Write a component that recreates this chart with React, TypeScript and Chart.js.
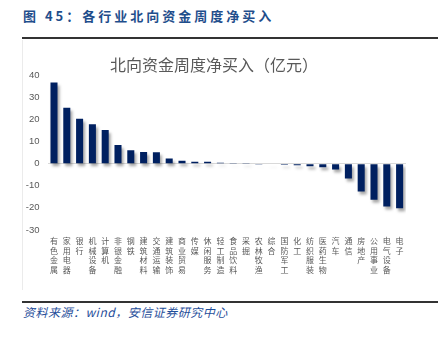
import React, { useEffect, useRef } from "react";
import { Chart, registerables } from "chart.js";

Chart.register(...registerables);

const categories = [
  "有色金属", "家用电器", "银行", "机械设备", "计算机", "非银金融", "钢铁",
  "建筑材料", "交通运输", "建筑装饰", "商业贸易", "传媒", "休闲服务", "轻工制造",
  "食品饮料", "采掘", "农林牧渔", "综合", "国防军工", "化工", "纺织服装",
  "医药生物", "汽车", "通信", "房地产", "公用事业", "电气设备", "电子",
];

const netBuy = [
  36.7, 25.3, 20.3, 17.8, 15.2, 8.4, 6.1,
  5.3, 5.2, 2.3, 1.3, 0.8, 0.8, 0.4,
  0.3, 0.05, -0.2, -0.3, -0.5, -0.7, -1.2,
  -1.6, -2.6, -6.7, -12.6, -16.3, -19.4, -20.2,
];

const yMin = -30;
const yMax = 40;
const yStep = 10;

const figureTitle = "图 45：各行业北向资金周度净买入";
const chartTitle = "北向资金周度净买入（亿元）";
const sourceText = "资料来源：wind，安信证券研究中心";

const shadowPlugin = {
  id: "barShadow",
  beforeDatasetsDraw(chart: any) {
    const ctx = chart.ctx;
    ctx.save();
    ctx.shadowColor = "rgba(0,0,0,0.35)";
    ctx.shadowOffsetX = 2;
    ctx.shadowOffsetY = 3;
    ctx.shadowBlur = 3;
  },
  afterDatasetsDraw(chart: any) {
    chart.ctx.restore();
  },
};

export default function App() {
  const canvasRef = useRef<HTMLCanvasElement | null>(null);

  useEffect(() => {
    if (!canvasRef.current) return;
    const chart = new Chart(canvasRef.current, {
      type: "bar",
      data: {
        labels: categories.map((c) => c.split("")),
        datasets: [
          {
            data: netBuy,
            backgroundColor: "#002060",
            barPercentage: 0.55,
            categoryPercentage: 1,
          },
        ],
      },
      plugins: [shadowPlugin],
      options: {
        animation: false,
        responsive: false,
        maintainAspectRatio: false,
        layout: { padding: { left: 0, right: 32, top: 0, bottom: 19 } },
        plugins: {
          legend: { display: false },
          tooltip: { enabled: false },
          title: {
            display: true,
            text: chartTitle,
            color: "#595959",
            font: { family: "'Noto Sans CJK SC', sans-serif", size: 16, weight: "normal" },
            padding: { top: 15, bottom: 1 },
          },
        },
        scales: {
          x: {
            grid: { display: false, drawTicks: false },
            border: { display: false },
            ticks: {
              autoSkip: false,
              maxRotation: 0,
              minRotation: 0,
              padding: 6,
              color: "#595959",
              font: { family: "'Noto Sans CJK SC', sans-serif", size: 8, lineHeight: 1.22 },
            },
          },
          y: {
            min: yMin,
            max: yMax,
            afterFit(scale: any) {
              scale.width = 25.6;
            },
            grid: {
              drawTicks: false,
              color: (ctx: any) => (ctx.tick && ctx.tick.value === 0 ? "#D9D9D9" : "rgba(0,0,0,0)"),
              lineWidth: 1,
            },
            border: { display: false },
            ticks: {
              stepSize: yStep,
              padding: 8,
              color: "#595959",
              font: { family: "'Liberation Sans', Arial, sans-serif", size: 9.5 },
            },
          },
        },
      },
    });
    return () => chart.destroy();
  }, []);

  return (
    <div style={{ position: "absolute", left: 0, top: 0, width: 438, height: 338, background: "#fff" }}>
      <div
        style={{
          position: "absolute",
          left: 23,
          top: 7,
          fontFamily: "'Noto Sans CJK SC', sans-serif",
          fontWeight: "bold",
          fontSize: 13,
          letterSpacing: 3,
          color: "#1F4E8C",
          whiteSpace: "nowrap",
          lineHeight: "18px",
        }}
      >
        {figureTitle}
      </div>
      <div style={{ position: "absolute", left: 22, top: 37, width: 416, height: 2, background: "#333" }} />
      <div style={{ position: "absolute", left: 22, top: 40, width: 1, height: 250, background: "#EBEBEB" }} />
      <div style={{ position: "absolute", left: 22, top: 40, width: 416, height: 260 }}>
        <canvas ref={canvasRef} width={416} height={260} style={{ width: 416, height: 260, display: "block" }} />
      </div>
      <div style={{ position: "absolute", left: 22, top: 301, width: 416, height: 1.5, background: "#333" }} />
      <div
        style={{
          position: "absolute",
          left: 23,
          top: 304,
          fontFamily: "'Noto Sans CJK SC', sans-serif",
          fontStyle: "italic",
          fontSize: 12,
          letterSpacing: 0.5,
          color: "#1F4E9A",
          whiteSpace: "nowrap",
          lineHeight: "16px",
        }}
      >
        {sourceText}
      </div>
    </div>
  );
}
